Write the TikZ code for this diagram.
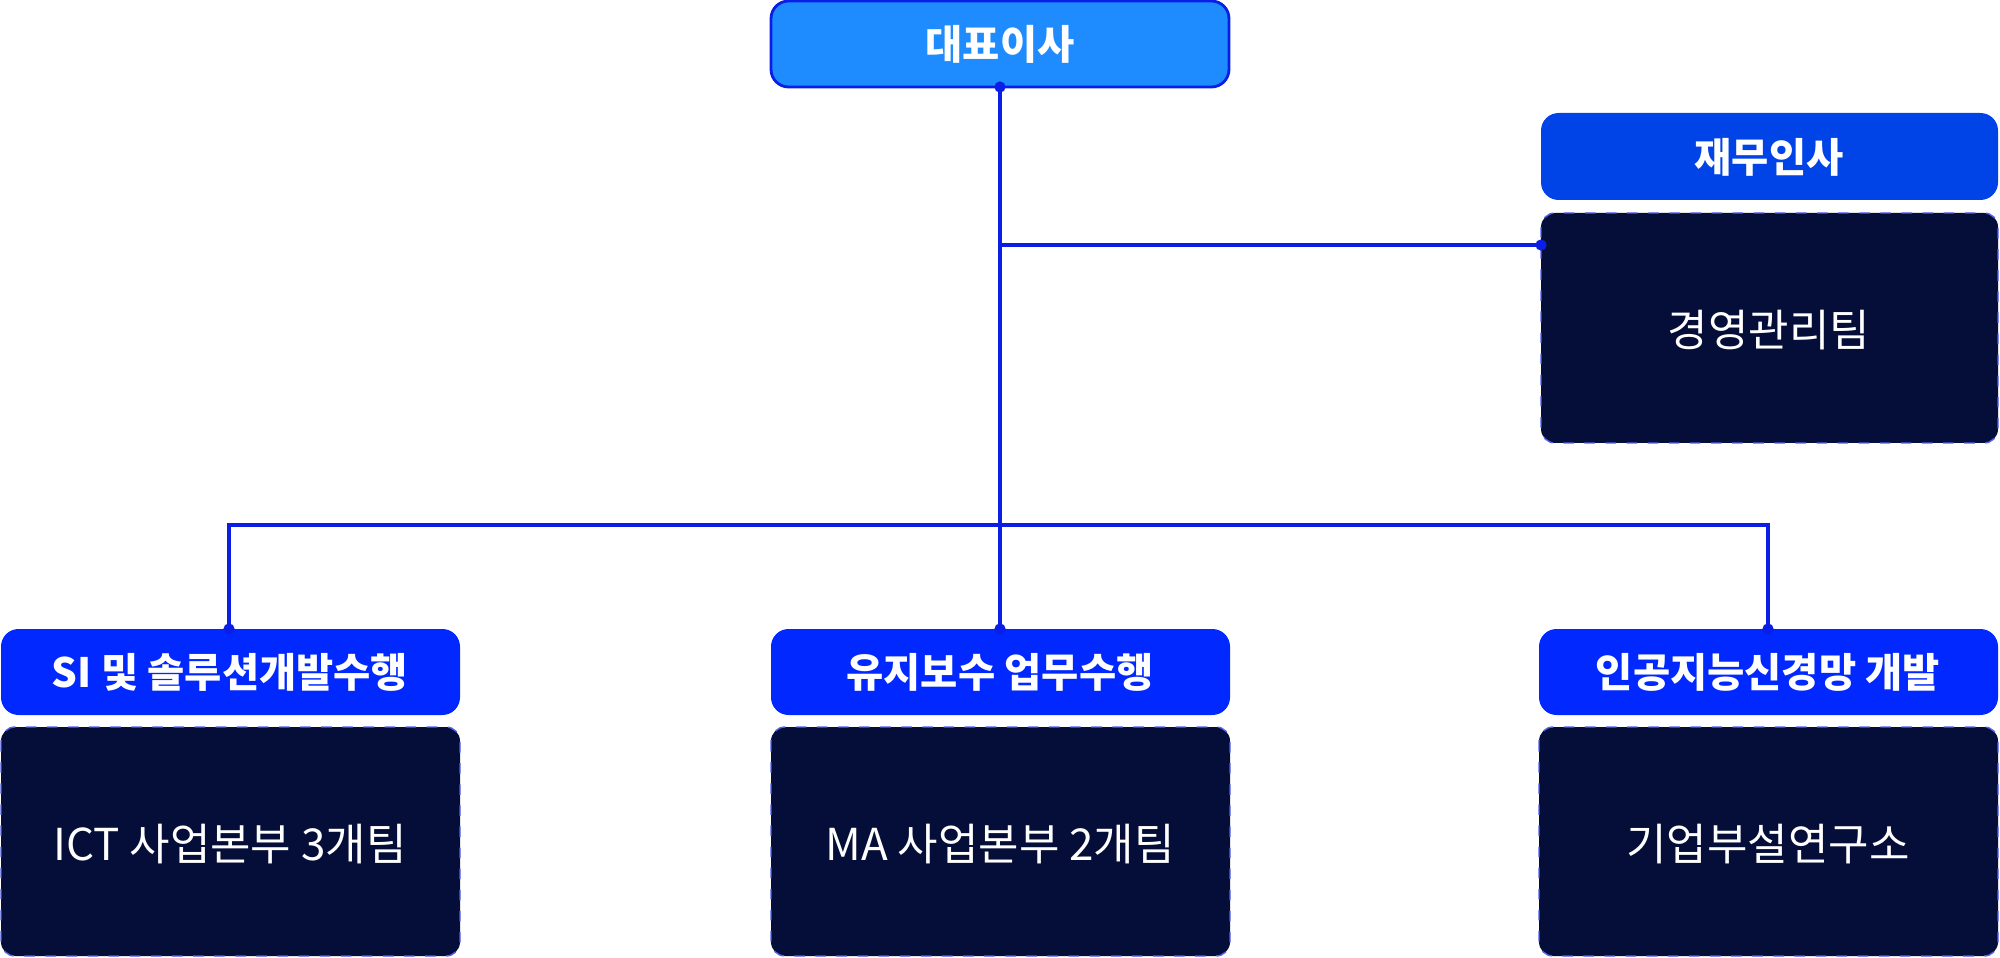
\documentclass[tikz,border=0pt]{standalone}
\usepackage{fontspec}
\usetikzlibrary{calc}
\setmainfont{Noto Sans CJK KR}
\definecolor{topc}{HTML}{1E8CFF}
\definecolor{rhead}{HTML}{0044E8}
\definecolor{bhead}{HTML}{0028FF}
\definecolor{dark}{HTML}{050E38}
\definecolor{linec}{HTML}{0A1EE6}
\begin{document}
\begin{tikzpicture}[x=0.01cm,y=-0.01cm,
  darkbox/.style={fill=dark,draw=linec!70,dashed,rounded corners=4pt},
  conn/.style={draw=linec,line width=1pt},
  dot/.style={circle,fill=linec,inner sep=0pt,minimum size=3.2pt}]
\useasboundingbox (0,0) rectangle (2000,958);
\fill[topc,draw=linec,line width=0.8pt,rounded corners=5pt] (771,1) rectangle (1229,87);
\node[text=white,font=\fontsize{11.5}{13}\selectfont\bfseries] (ceo) at (1000,44) {대표이사};
\fill[rhead,rounded corners=5pt] (1541,113) rectangle (1998,200);
\node[text=white,font=\fontsize{11.5}{13}\selectfont\bfseries] (fin) at (1769,157) {재무인사};
\draw[darkbox] (1541,213) rectangle (1998,443);
\node[text=white,font=\fontsize{12.5}{14}\selectfont] (mgmt) at (1769,330) {경영관리팀};
\foreach \x/\h/\b/\n in {1/SI 및 솔루션개발수행/ICT 사업본부 3개팀/a,771/유지보수 업무수행/MA 사업본부 2개팀/b,1539/인공지능신경망 개발/기업부설연구소/c}{
  \fill[bhead,rounded corners=5pt] (\x,629) rectangle ++(459,86);
  \node[text=white,font=\fontsize{11.5}{13}\selectfont\bfseries] (h\n) at ($(\x,672)+(229,0)$) {\h};
  \draw[darkbox] (\x,727) rectangle ++(459,229);
  \node[text=white,font=\fontsize{12.5}{14}\selectfont] (d\n) at ($(\x,844)+(229,0)$) {\b};
}
\coordinate (top) at (1000,87);
\coordinate (j1) at (1000,245);
\coordinate (r1) at (1541,245);
\coordinate (j2) at (1000,525);
\coordinate (la) at (229,525);
\coordinate (lc) at (1768,525);
\coordinate (ea) at (229,629);
\coordinate (eb) at (1000,629);
\coordinate (ec) at (1768,629);
\draw[conn] (top) -- (eb);
\draw[conn] (j1) -- (r1);
\draw[conn] (ea) -- (la) -- (lc) -- (ec);
\foreach \p in {top,r1,ea,eb,ec} \node[dot] at (\p) {};
\end{tikzpicture}
\end{document}
